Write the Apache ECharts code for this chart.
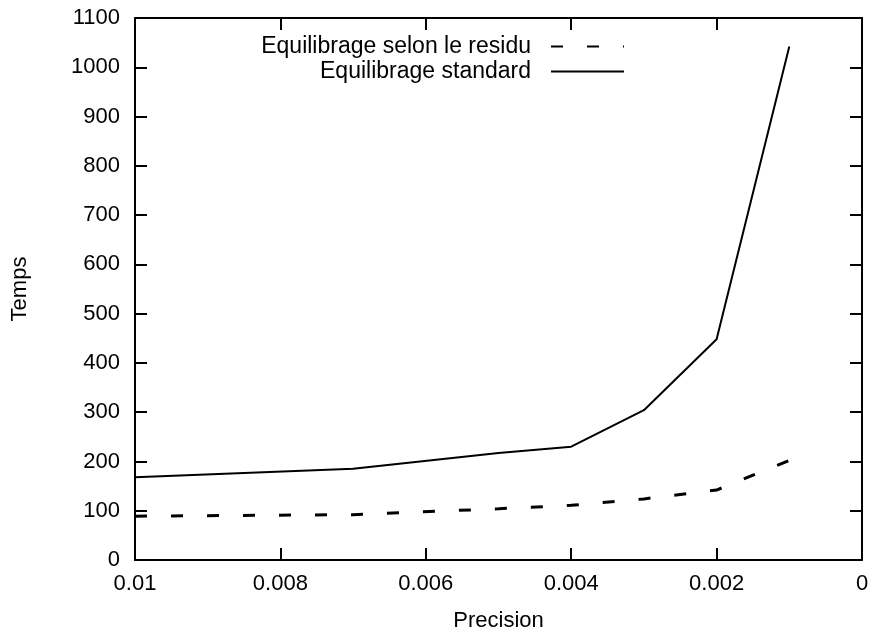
<!DOCTYPE html>
<html>
<head>
<meta charset="utf-8">
<script src="https://cdn.jsdelivr.net/npm/echarts@6/dist/echarts.min.js"></script>
<style>
  html, body { margin: 0; padding: 0; background: #fff; }
  #container { width: 872px; height: 637px; }
</style>
</head>
<body>
<div id="container"></div>
<script>
// precision values (x) and times (y)
var precision = [0.01, 0.007, 0.005, 0.004, 0.003, 0.002, 0.001];
var tempsResidu = [89, 92, 104, 111, 124, 142, 202];
var tempsStandard = [168, 185, 217, 230, 304, 448, 1042];
var seriesNames = ['Equilibrage selon le residu', 'Equilibrage standard'];

function pairs(xs, ys) {
    var res = [];
    for (var i = 0; i < xs.length; i++) {
        res.push([xs[i], ys[i]]);
    }
    return res;
}

var font = 'Liberation Sans, Arial, sans-serif';
var axisText = { color: '#000', fontSize: 22, fontFamily: font };
var frameLine = { onZero: false, lineStyle: { color: '#000', width: 2 } };
var frameTick = { show: true, inside: true, length: 12, lineStyle: { color: '#000', width: 2 } };

function legendFor(name, top) {
    return {
        data: [name],
        right: 247, top: top, padding: 0,
        itemWidth: 73, itemHeight: 14,
        align: 'right',
        itemStyle: { opacity: 0 },   // hide the symbol, keep the line sample
        textStyle: { color: '#000', fontSize: 23, fontFamily: font, padding: [0, 15, 0, 0] },
        selectedMode: false
    };
}

window.onload = function () {
    var chart = echarts.init(document.getElementById('container'));
    var option = {
        backgroundColor: '#fff',
        animation: false,
        grid: { left: 135, right: 10, top: 18, bottom: 70 },
        legend: [legendFor(seriesNames[0], 35), legendFor(seriesNames[1], 60)],
        xAxis: [
            {
                type: 'value', inverse: true, min: 0, max: 0.01, interval: 0.002,
                name: 'Precision', nameLocation: 'middle', nameGap: 50,
                nameTextStyle: axisText,
                axisLine: frameLine,
                axisTick: frameTick,
                axisLabel: Object.assign({ margin: 13 }, axisText),
                splitLine: { show: false }
            },
            {
                type: 'value', inverse: true, min: 0, max: 0.01, interval: 0.002,
                position: 'top',
                axisLine: frameLine,
                axisTick: frameTick,
                axisLabel: { show: false },
                splitLine: { show: false }
            }
        ],
        yAxis: [
            {
                type: 'value', min: 0, max: 1100, interval: 100,
                name: 'Temps', nameLocation: 'middle', nameGap: 104,
                nameTextStyle: axisText,
                axisLine: Object.assign({ show: true }, frameLine),
                axisTick: frameTick,
                axisLabel: Object.assign({ margin: 15, formatter: function (v) { return String(v); } }, axisText),
                splitLine: { show: false }
            },
            {
                type: 'value', min: 0, max: 1100, interval: 100,
                position: 'right',
                axisLine: Object.assign({ show: true }, frameLine),
                axisTick: frameTick,
                axisLabel: { show: false },
                splitLine: { show: false }
            }
        ],
        series: [
            {
                name: seriesNames[0],
                type: 'line',
                symbol: 'none',
                data: pairs(precision, tempsResidu),
                itemStyle: { color: '#000' },
                lineStyle: { color: '#000', width: 3, type: [12, 24] }
            },
            {
                name: seriesNames[1],
                type: 'line',
                symbol: 'none',
                data: pairs(precision, tempsStandard),
                itemStyle: { color: '#000' },
                lineStyle: { color: '#000', width: 2 }
            }
        ]
    };
    chart.setOption(option);
};
</script>
</body>
</html>
